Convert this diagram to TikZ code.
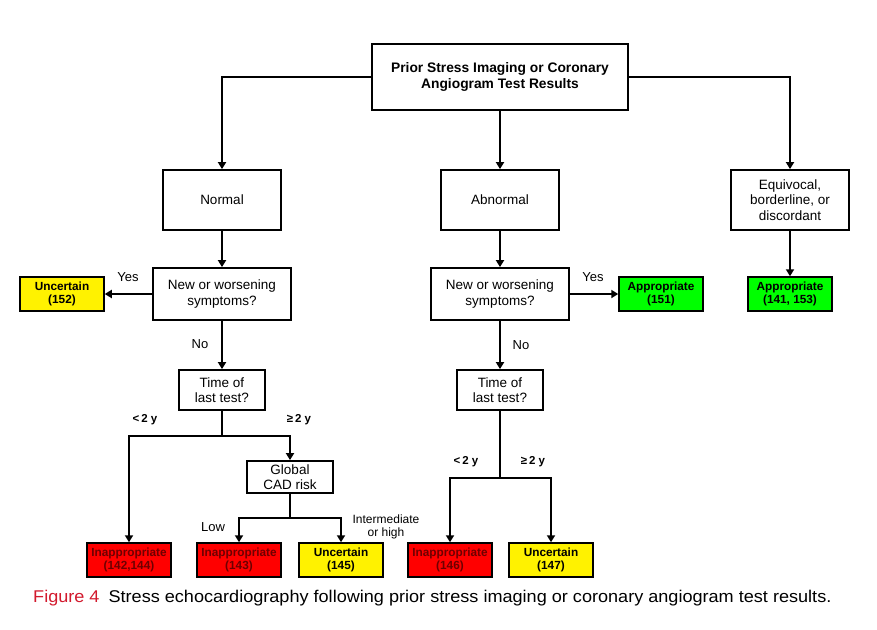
\documentclass[tikz,border=0pt]{standalone}
\usepackage{fontspec}
\usepackage{graphicx}
\setmainfont{Liberation Sans}
\usetikzlibrary{arrows.meta}
\definecolor{capred}{RGB}{210,25,45}
\definecolor{darkred}{RGB}{110,0,0}
\begin{document}
\begin{tikzpicture}[x=1pt,y=-1pt,
  box/.style={draw,line width=1.8pt,fill=white,align=center,inner sep=0pt,
    font=\fontsize{13.5}{15.5}\selectfont},
  small/.style={draw,line width=1.5pt,align=center,inner sep=0pt,
    minimum width=84pt,minimum height=34pt,font=\bfseries\fontsize{11.8}{13.5}\selectfont},
  redbox/.style={small,fill=red,text=darkred},
  yelbox/.style={small,fill=yellow},
  grnbox/.style={small,fill=green},
  lbl/.style={inner sep=0pt,font=\fontsize{13}{15}\selectfont},
  yrs/.style={lbl,font=\bfseries\fontsize{11.5}{13}\selectfont},
  arr/.style={line width=1.8pt,-{Triangle[length=7pt,width=8pt]}},
  ln/.style={line width=1.8pt}]
\useasboundingbox (0,0) rectangle (877,629);
% boxes
\node[box,minimum width=256pt,minimum height=66pt,font=\bfseries\fontsize{13.8}{16}\selectfont]
  (top) at (500,77) {Prior Stress Imaging or Coronary\\Angiogram Test Results};
\node[box,minimum width=118pt,minimum height=60pt] (normal) at (222,200) {Normal};
\node[box,minimum width=118pt,minimum height=60pt] (abnormal) at (500,200) {Abnormal};
\node[box,minimum width=118pt,minimum height=60pt] (equiv) at (790,200) {Equivocal,\\borderline, or\\discordant};
\node[box,minimum width=138pt,minimum height=52pt] (newL) at (222,294) {New or worsening\\symptoms?};
\node[box,minimum width=138pt,minimum height=52pt] (newR) at (500,294) {New or worsening\\symptoms?};
\node[box,minimum width=86pt,minimum height=40pt] (timeL) at (222,390) {Time of\\last test?};
\node[box,minimum width=86pt,minimum height=40pt] (timeR) at (500,390) {Time of\\last test?};
\node[box,minimum width=86pt,minimum height=32pt] (cad) at (290,477) {Global\\CAD risk};
% outcomes
\node[yelbox] (u152) at (62,294) {Uncertain\\(152)};
\node[grnbox] (a151) at (661,294) {Appropriate\\(151)};
\node[grnbox] (a141) at (790,294) {Appropriate\\(141, 153)};
\node[redbox] (i142) at (129,560) {Inappropriate\\(142,144)};
\node[redbox] (i143) at (239,560) {Inappropriate\\(143)};
\node[yelbox] (u145) at (341,560) {Uncertain\\(145)};
\node[redbox] (i146) at (450,560) {Inappropriate\\(146)};
\node[yelbox] (u147) at (551,560) {Uncertain\\(147)};
% connectors
\draw[arr] (top.west) -| (normal.north);
\draw[arr] (top.east) -| (equiv.north);
\draw[arr] (top.south) -- (abnormal.north);
\draw[arr] (normal.south) -- (newL.north);
\draw[arr] (abnormal.south) -- (newR.north);
\draw[arr] (equiv.south) -- (a141.north);
\draw[arr] (newL.west) -- (u152.east);
\draw[arr] (newR.east) -- (a151.west);
\draw[arr] (newL.south) -- (timeL.north);
\draw[arr] (newR.south) -- (timeR.north);
\coordinate (splitL) at (222,436);
\coordinate (splitC) at (290,518);
\coordinate (splitR) at (500,478);
\draw[ln] (timeL.south) -- (splitL);
\draw[arr] (splitL) -| (i142.north);
\draw[arr] (splitL) -| (cad.north);
\draw[ln] (cad.south) -- (splitC);
\draw[arr] (splitC) -| (i143.north);
\draw[arr] (splitC) -| (u145.north);
\draw[ln] (timeR.south) -- (splitR);
\draw[arr] (splitR) -| (i146.north);
\draw[arr] (splitR) -| (u147.north);
% labels
\node[lbl] (yesL) at (128,277) {Yes};
\node[lbl] (yesR) at (593,277) {Yes};
\node[lbl] (noL) at (200,344) {No};
\node[lbl] (noR) at (521,345) {No};
\node[yrs] (ltL) at (145,420) {<\,2 y};
\node[yrs] (geL) at (299,420) {≥\,2 y};
\node[yrs] (ltR) at (466,462) {<\,2 y};
\node[yrs] (geR) at (533,462) {≥\,2 y};
\node[lbl] (low) at (213,527) {Low};
\node[lbl,align=center,font=\fontsize{12}{13.5}\selectfont] (inter) at (386,527) {Intermediate\\or high};
% caption
\node[anchor=west,inner sep=0pt] (cap) at (33,598)
  {\scalebox{1.064}[1]{\fontsize{17}{20}\selectfont\textcolor{capred}{Figure 4}\enspace Stress echocardiography following prior stress imaging or coronary angiogram test results.}};
\end{tikzpicture}
\end{document}
